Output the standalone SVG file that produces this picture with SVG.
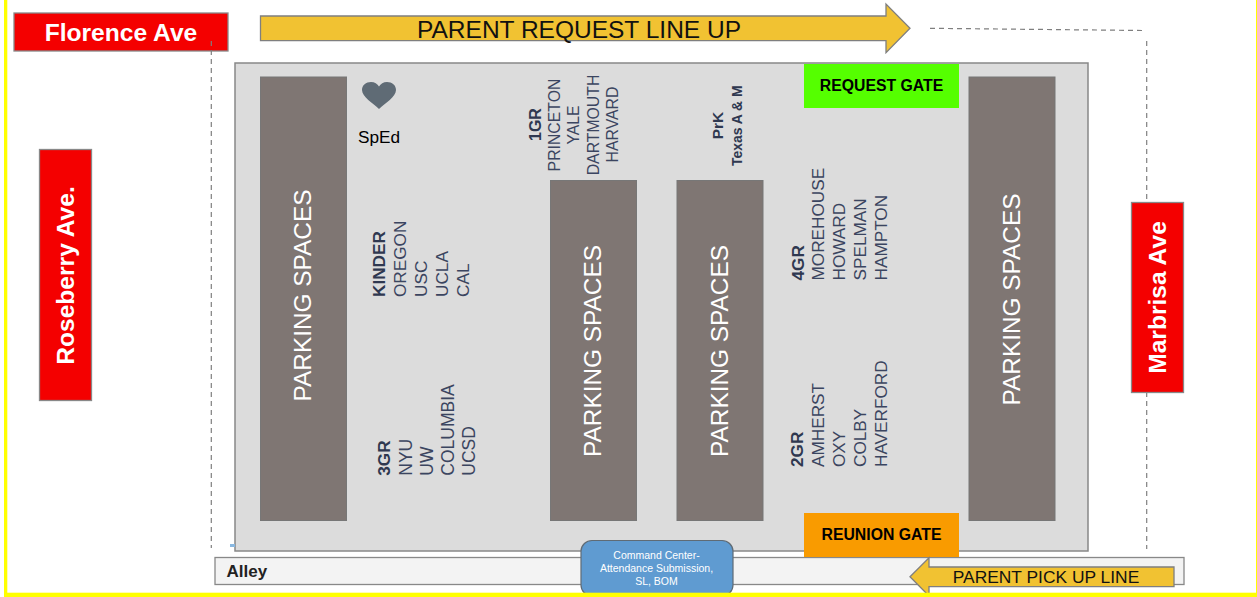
<svg xmlns="http://www.w3.org/2000/svg" width="1257" height="597" viewBox="0 0 1257 597">
<style>
text{font-family:"Liberation Sans",Arial,sans-serif}
.st{fill:#fff;font-weight:700;font-size:24.6px;text-anchor:middle}
.road{fill:#f40000;stroke:#888;stroke-width:1.3}
.park{fill:#7f7673;stroke:#777;stroke-width:1}
.pt{fill:#fff;font-size:24.400px;text-anchor:middle}
.arrow{fill:#f1c232;stroke:#7f7f7f;stroke-width:1.3}
.dash{fill:none;stroke:#7f7f7f;stroke-width:1.2;stroke-dasharray:5 4}
.g{fill:#3b4560;font-size:17.2px}
.gb{fill:#2f3850;font-size:17.2px;font-weight:700}
.g1{fill:#3b4560;font-size:15.800px}
.gate{fill:#000;font-size:15.800px;font-weight:700;text-anchor:middle}
</style>
<rect id="frame-bg" width="1257" height="597" fill="#fff"/>
<g id="lot"><rect x="235" y="63" width="853" height="488" fill="#dcdcdc" stroke="#888" stroke-width="1.500"/><rect x="230" y="544" width="5" height="3" fill="#8ab8e0"/></g>
<g id="florence"><rect class="road" x="14" y="13" width="214" height="38"/><text class="st" x="121" y="41">Florence Ave</text></g>
<g id="connectors">
<path class="dash" d="M211.300 41V548"/>
<path class="dash" d="M930 28.300L1143 30.500"/>
<path class="dash" d="M1146.700 41V549"/>
</g>
<g id="roseberry"><rect class="road" x="39.500" y="149.500" width="52" height="251"/><text class="st" transform="translate(74 275.500) rotate(-90)">Roseberry Ave.</text></g>
<g id="marbrisa"><rect class="road" x="1131.500" y="202.500" width="52" height="190"/><text class="st" transform="translate(1166 297.500) rotate(-90)">Marbrisa Ave</text></g>
<g id="request-line"><path class="arrow" d="M260.500 16H886V4L910 28.300L886 52.700V40.700H260.500Z"/><text x="579" y="38" font-size="24.500" text-anchor="middle" fill="#111">PARENT REQUEST LINE UP</text></g>
<g id="park1"><rect class="park" x="260.500" y="77" width="86" height="443.500"/><text class="pt" transform="translate(311 295.500) rotate(-90)">PARKING SPACES</text></g>
<g id="park2"><rect class="park" x="550.500" y="180.500" width="86" height="340"/><text class="pt" transform="translate(601 351) rotate(-90)">PARKING SPACES</text></g>
<g id="park3"><rect class="park" x="677" y="180.500" width="86" height="340"/><text class="pt" transform="translate(728 351) rotate(-90)">PARKING SPACES</text></g>
<g id="park4"><rect class="park" x="969" y="77" width="86" height="443.500"/><text class="pt" transform="translate(1020 299.500) rotate(-90)">PARKING SPACES</text></g>
<g id="sped"><path d="M379 109C373 103 362 97 362 90C362 85 366 82 371 82C374.500 82 377.500 84 379 86.500C380.500 84 383.500 82 387 82C392 82 396 85 396 90C396 97 385 103 379 109Z" fill="#5f6b75"/><text x="358" y="143" font-size="17.200" fill="#000">SpEd</text></g>
<g id="request-gate"><rect x="804" y="64" width="155" height="44" fill="#55ff00"/><text class="gate" x="881.500" y="91">REQUEST GATE</text></g>
<g id="grade1"><text class="gb" style="font-size:16px" transform="translate(541 141) rotate(-90)">1GR</text>
<g class="g1" text-anchor="middle"><text transform="translate(560 125) rotate(-90)">PRINCETON</text><text transform="translate(579 125) rotate(-90)">YALE</text><text transform="translate(598.500 125) rotate(-90)">DARTMOUTH</text><text transform="translate(617.500 124.500) rotate(-90)">HARVARD</text></g></g>
<g id="prek"><text class="gb" style="font-size:15.500px" transform="translate(722.500 139.300) rotate(-90)">PrK</text><text transform="translate(741.500 166) rotate(-90)" fill="#2f3850" font-size="13.900" font-weight="700">Texas A &amp; M</text></g>
<g id="kinder"><text class="gb" transform="translate(384.500 297) rotate(-90)">KINDER</text>
<g class="g"><text transform="translate(405.500 297) rotate(-90)">OREGON</text><text transform="translate(426.500 297) rotate(-90)">USC</text><text transform="translate(448 297) rotate(-90)">UCLA</text><text transform="translate(468.500 297) rotate(-90)">CAL</text></g></g>
<g id="grade3"><text class="gb" transform="translate(390.200 475.700) rotate(-90)">3GR</text>
<g class="g" style="font-size:17.500px"><text transform="translate(411.500 475.700) rotate(-90)">NYU</text><text transform="translate(432.500 475.700) rotate(-90)">UW</text><text transform="translate(453.500 475.700) rotate(-90)">COLUMBIA</text><text transform="translate(475 475.700) rotate(-90)">UCSD</text></g></g>
<g id="grade4"><text class="gb" transform="translate(803.500 280.500) rotate(-90)">4GR</text>
<g class="g"><text transform="translate(823.500 280.500) rotate(-90)">MOREHOUSE</text><text transform="translate(844.500 280.500) rotate(-90)">HOWARD</text><text transform="translate(865.500 280.500) rotate(-90)">SPELMAN</text><text transform="translate(887 280.500) rotate(-90)">HAMPTON</text></g></g>
<g id="grade2"><text class="gb" transform="translate(803 467) rotate(-90)">2GR</text>
<g class="g"><text transform="translate(823.500 467) rotate(-90)">AMHERST</text><text transform="translate(844.500 467) rotate(-90)">OXY</text><text transform="translate(865.500 467) rotate(-90)">COLBY</text><text transform="translate(887 467) rotate(-90)">HAVERFORD</text></g></g>
<g id="alley"><rect x="215" y="557.500" width="969" height="27" fill="#f3f3f3" stroke="#888" stroke-width="1.300"/><text x="226.500" y="577" font-size="17" font-weight="700" fill="#222">Alley</text></g>
<g id="reunion-gate"><rect x="804" y="513" width="155" height="44" fill="#f99b00"/><text class="gate" x="881.500" y="540">REUNION GATE</text></g>
<g id="pickup-line"><path class="arrow" d="M1174 567V586.700H929V596L910 576.700L929 557.700V567Z"/><text x="1046" y="583" font-size="17.400" text-anchor="middle" fill="#111">PARENT PICK UP LINE</text></g>
<g id="command"><path d="M592 596A11 11 0 0 1 581 585V551A11 11 0 0 1 592 540.500H722A11 11 0 0 1 733 551V585A11 11 0 0 1 722 596Z" fill="#5f9bd1" stroke="#5f6b75" stroke-width="1.200"/>
<g fill="#fff" font-size="10.500" text-anchor="middle"><text x="656.500" y="558.500">Command Center-</text><text x="656.500" y="572">Attendance Submission,</text><text x="656.500" y="585">SL, BOM</text></g></g>
<g id="frame" fill="#ffff00"><rect x="4" y="0" width="3.300" height="597"/><rect x="1256" y="0" width="1" height="597"/><rect x="4" y="592.700" width="1253" height="4.300"/></g>
</svg>
